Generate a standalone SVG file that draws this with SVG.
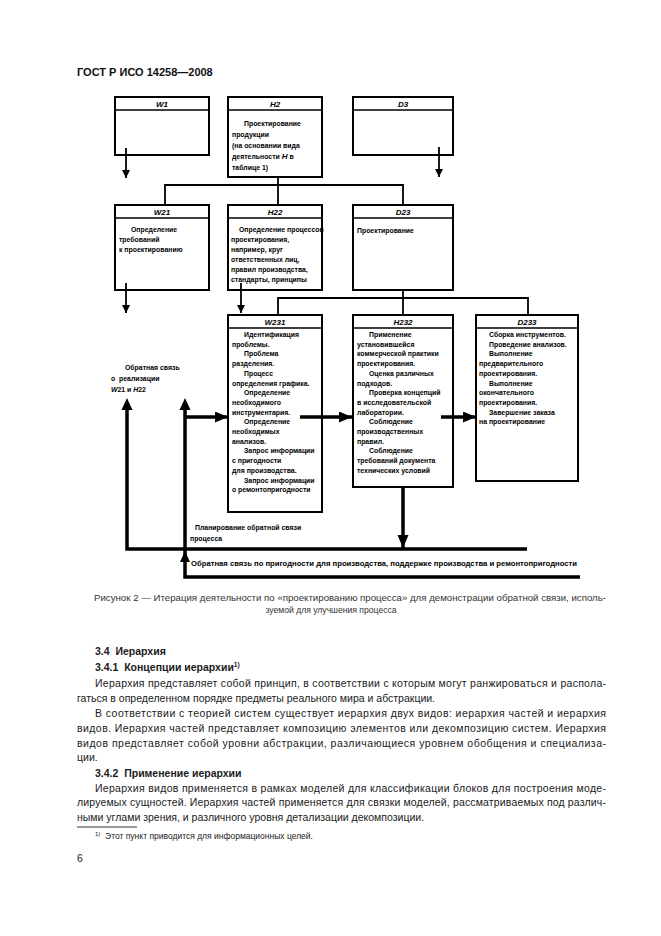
<svg xmlns="http://www.w3.org/2000/svg" width="661" height="936" viewBox="0 0 661 936">
<defs>
<style>
.bx{fill:#fff;stroke:#000;stroke-width:2}
.hl{stroke:#000;stroke-width:1.6}
.lb{font-family:"Liberation Sans",Arial,sans-serif;font-size:8px;font-weight:bold;font-style:italic;text-anchor:middle;fill:#000}
.t{font-family:"Liberation Sans",Arial,sans-serif;font-size:6.9px;font-weight:bold;fill:#000}
.c{fill:none;stroke:#000;stroke-width:1.8}
.ck{fill:none;stroke:#000;stroke-width:3.5}
.body{font-family:"Liberation Sans",Arial,sans-serif;font-size:10.5px;fill:#1a1a1a}
.bh{font-family:"Liberation Sans",Arial,sans-serif;font-size:10.5px;font-weight:bold;fill:#1a1a1a}
.cap{font-family:"Liberation Sans",Arial,sans-serif;font-size:8.6px;fill:#333}
</style>
<marker id="a" markerUnits="userSpaceOnUse" markerWidth="8" markerHeight="10" refX="8" refY="4" orient="auto">
<path d="M0,0 L8,4 L0,8 Z" fill="#000"/>
</marker>
<marker id="ak" markerUnits="userSpaceOnUse" markerWidth="14" markerHeight="12" refX="13" refY="5.5" orient="auto">
<path d="M0,0 L13,5.5 L0,11 Z" fill="#000"/>
</marker>
</defs>
<rect width="661" height="936" fill="#fff"/>
<text x="77" y="76" style="font-family:'Liberation Sans',Arial,sans-serif;font-size:11px;font-weight:bold;fill:#111">ГОСТ Р ИСО 14258—2008</text>

<g id="W1">
<rect class="bx" x="115" y="97" width="94" height="58"/>
<line class="hl" x1="115" y1="110" x2="209" y2="110"/>
<text class="lb" x="162" y="107">W1</text>
</g>
<g id="H2">
<rect class="bx" x="228" y="97" width="94" height="80"/>
<line class="hl" x1="228" y1="110" x2="322" y2="110"/>
<text class="lb" x="275" y="107">H2</text>
<text class="t" x="244" y="126">Проектирование</text>
<text class="t" x="232" y="137">продукции</text>
<text class="t" x="232" y="148">(на основании вида</text>
<text class="t" x="232" y="159">деятельности <tspan font-style="italic" font-size="8">H</tspan> в</text>
<text class="t" x="232" y="170">таблице 1)</text>
</g>
<g id="D3">
<rect class="bx" x="353" y="97" width="100" height="58"/>
<line class="hl" x1="353" y1="110" x2="453" y2="110"/>
<text class="lb" x="403" y="107">D3</text>
</g>

<g id="W21">
<rect class="bx" x="115" y="205" width="94" height="85"/>
<line class="hl" x1="115" y1="218" x2="209" y2="218"/>
<text class="lb" x="162" y="215">W21</text>
<text class="t" x="131" y="232">Определение</text>
<text class="t" x="119" y="242">требований</text>
<text class="t" x="119" y="252">к проектированию</text>
</g>
<g id="H22">
<rect class="bx" x="228" y="205" width="94" height="85"/>
<line class="hl" x1="228" y1="218" x2="322" y2="218"/>
<text class="lb" x="275" y="215">H22</text>
<text class="t" x="239" y="232">Определение процессов</text>
<text class="t" x="231" y="242">проектирования,</text>
<text class="t" x="231" y="252">например, круг</text>
<text class="t" x="231" y="262">ответственных лиц,</text>
<text class="t" x="231" y="272">правил производства,</text>
<text class="t" x="231" y="282">стандарты, принципы</text>
</g>
<g id="D23">
<rect class="bx" x="353" y="205" width="100" height="85"/>
<line class="hl" x1="353" y1="218" x2="453" y2="218"/>
<text class="lb" x="403" y="215">D23</text>
<text class="t" x="357" y="233">Проектирование</text>
</g>

<g id="W231">
<rect class="bx" x="228" y="315" width="94" height="197"/>
<line class="hl" x1="228" y1="328" x2="322" y2="328"/>
<text class="lb" x="275" y="325">W231</text>
<text class="t" x="244" y="337">Идентификация</text>
<text class="t" x="232" y="346.7">проблемы.</text>
<text class="t" x="244" y="356.4">Проблема</text>
<text class="t" x="232" y="366.1">разделения.</text>
<text class="t" x="244" y="375.8">Процесс</text>
<text class="t" x="232" y="385.5">определения графика.</text>
<text class="t" x="244" y="395.2">Определение</text>
<text class="t" x="232" y="404.9">необходимого</text>
<text class="t" x="232" y="414.6">инструментария.</text>
<text class="t" x="244" y="424.3">Определение</text>
<text class="t" x="232" y="434">необходимых</text>
<text class="t" x="232" y="443.7">анализов.</text>
<text class="t" x="244" y="453.4">Запрос информации</text>
<text class="t" x="232" y="463.1">с пригодности</text>
<text class="t" x="232" y="472.8">для производства.</text>
<text class="t" x="244" y="482.5">Запрос информации</text>
<text class="t" x="232" y="492.2">о ремонтопригодности</text>
</g>
<g id="H232">
<rect class="bx" x="353" y="315" width="100" height="172"/>
<line class="hl" x1="353" y1="328" x2="453" y2="328"/>
<text class="lb" x="403" y="325">H232</text>
<text class="t" x="369" y="337">Применение</text>
<text class="t" x="357" y="346.7">установившейся</text>
<text class="t" x="357" y="356.4">коммерческой практики</text>
<text class="t" x="357" y="366.1">проектирования.</text>
<text class="t" x="369" y="375.8">Оценка различных</text>
<text class="t" x="357" y="385.5">подходов.</text>
<text class="t" x="369" y="395.2">Проверка концепций</text>
<text class="t" x="357" y="404.9">в исследовательской</text>
<text class="t" x="357" y="414.6">лаборатории.</text>
<text class="t" x="369" y="424.3">Соблюдение</text>
<text class="t" x="357" y="434">производственных</text>
<text class="t" x="357" y="443.7">правил.</text>
<text class="t" x="369" y="453.4">Соблюдение</text>
<text class="t" x="357" y="463.1">требований документа</text>
<text class="t" x="357" y="472.8">технических условий</text>
</g>
<g id="D233">
<rect class="bx" x="476" y="315" width="102" height="166"/>
<line class="hl" x1="476" y1="328" x2="578" y2="328"/>
<text class="lb" x="527" y="325">D233</text>
<text class="t" x="489" y="337">Сборка инструментов.</text>
<text class="t" x="489" y="346.7">Проведение анализов.</text>
<text class="t" x="489" y="356.4">Выполнение</text>
<text class="t" x="479" y="366.1">предварительного</text>
<text class="t" x="479" y="375.8">проектирования.</text>
<text class="t" x="489" y="385.5">Выполнение</text>
<text class="t" x="479" y="395.2">окончательного</text>
<text class="t" x="479" y="404.9">проектирования.</text>
<text class="t" x="489" y="414.6">Завершение заказа</text>
<text class="t" x="479" y="424.3">на проектирование</text>
</g>

<g id="connectors">
<line class="c" x1="126" y1="148" x2="126" y2="178" marker-end="url(#a)"/>
<line class="c" x1="439" y1="147" x2="439" y2="177" marker-end="url(#a)"/>
<polyline class="c" points="278,177 278,185"/>
<polyline class="c" points="165,205 165,185 403,185 403,205"/>
<line class="c" x1="278" y1="185" x2="278" y2="205"/>
<line class="c" x1="126" y1="283" x2="126" y2="313" marker-end="url(#a)"/>
<line class="c" x1="241" y1="283" x2="241" y2="313" marker-end="url(#a)"/>
<polyline class="c" points="403,290 403,298"/>
<polyline class="c" points="278,315 278,298 528,298 528,315"/>
<line class="c" x1="403" y1="298" x2="403" y2="315"/>
<line class="ck" x1="300" y1="417" x2="352" y2="417" marker-end="url(#ak)"/>
<line class="ck" x1="441" y1="417" x2="476" y2="417" marker-end="url(#ak)"/>
<line class="ck" x1="403" y1="488" x2="403" y2="548" marker-end="url(#ak)"/>
<polyline class="ck" points="527,549 127,549 127,405"/>
<path d="M121.5,410 L127,398 L132.5,410 Z" fill="#000"/>
<polyline class="ck" points="580,577 185,577 185,405"/>
<path d="M179.5,410 L185,398 L190.5,410 Z" fill="#000"/>
<path d="M180,562 L185,551 L190,562 Z" fill="#000"/>
<line class="ck" x1="185" y1="417" x2="228" y2="417" marker-end="url(#ak)"/>
</g>

<g id="labels">
<text class="t" x="125" y="370">Обратная связь</text>
<text class="t" x="111" y="381" xml:space="preserve">о  реализации</text>
<text class="t" x="111" y="392"><tspan font-style="italic">W</tspan>21 и <tspan font-style="italic">H</tspan>22</text>
<text class="t" x="195" y="530">Планирование обратной связи</text>
<text class="t" x="190" y="541">процесса</text>
<text class="t" x="191" y="566" textLength="386" lengthAdjust="spacingAndGlyphs">Обратная связь по пригодности для производства, поддержке производства и ремонтопригодности</text>
</g>

<text class="cap" x="94" y="601" textLength="512" lengthAdjust="spacingAndGlyphs">Рисунок 2 — Итерация деятельности по «проектированию процесса» для демонстрации обратной связи, исполь-</text>
<text class="cap" x="331" y="613" text-anchor="middle">зуемой для улучшения процесса</text>

<text class="bh" x="95" y="655" xml:space="preserve">3.4  Иерархия</text>
<text class="bh" x="95" y="671" xml:space="preserve">3.4.1  Концепции иерархии<tspan font-size="6.5" dy="-4">1)</tspan></text>
<text class="body" x="95" y="687" textLength="511" lengthAdjust="spacing">Иерархия представляет собой принцип, в соответствии с которым могут ранжироваться и распола-</text>
<text class="body" x="77" y="702">гаться в определенном порядке предметы реального мира и абстракции.</text>
<text class="body" x="95" y="717" textLength="511" lengthAdjust="spacing">В соответствии с теорией систем существует иерархия двух видов: иерархия частей и иерархия</text>
<text class="body" x="77" y="732" textLength="529" lengthAdjust="spacing">видов. Иерархия частей представляет композицию элементов или декомпозицию систем. Иерархия</text>
<text class="body" x="77" y="747" textLength="529" lengthAdjust="spacing">видов представляет собой уровни абстракции, различающиеся уровнем обобщения и специализа-</text>
<text class="body" x="77" y="761">ции.</text>
<text class="bh" x="95" y="777" xml:space="preserve">3.4.2  Применение иерархии</text>
<text class="body" x="95" y="792" textLength="511" lengthAdjust="spacing">Иерархия видов применяется в рамках моделей для классификации блоков для построения моде-</text>
<text class="body" x="77" y="806" textLength="529" lengthAdjust="spacing">лируемых сущностей. Иерархия частей применяется для связки моделей, рассматриваемых под различ-</text>
<text class="body" x="77" y="821">ными углами зрения, и различного уровня детализации декомпозиции.</text>
<line x1="77" y1="827" x2="137" y2="827" stroke="#000" stroke-width="0.8"/>
<text x="95" y="839" style="font-family:'Liberation Sans',Arial,sans-serif;font-size:8.5px;fill:#222" xml:space="preserve"><tspan font-size="6" dy="-3">1)</tspan><tspan dy="3">  Этот пункт приводится для информационных целей.</tspan></text>
<text class="body" x="77" y="862">6</text>
</svg>
